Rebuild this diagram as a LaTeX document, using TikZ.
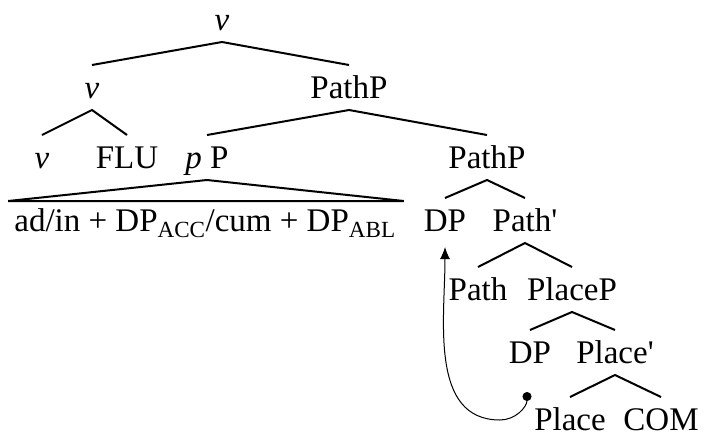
\documentclass[tikz,border=0pt]{standalone}
\usepackage{fontspec}
\setmainfont{Liberation Serif}
\usetikzlibrary{arrows.meta}
\tikzstyle{tree_style}=[
	x=1pt,y=1pt,
	cat/.style={anchor=base,inner sep=0pt,outer ysep=12pt,text height=21pt,text depth=0pt,font=\fontsize{33}{38}\selectfont},
	branch/.style={line width=2pt},
	move_edge/.style={line width=1pt,{Circle[length=9pt]}-{Latex[length=12pt,width=10pt]}}
]

\begin{document}
\begin{tikzpicture}[tree_style]
			\useasboundingbox (0,0) rectangle (704,-442);
			
			%root
			\node[cat] (vtop) at (222,-30) {\textit{v}};
			
			%second row
			\node[cat] (v1) at (92,-98) {\textit{v}};
			\node[cat] (pathp1) at (349,-98) {PathP};
			
			%third row
			\node[cat] (v0) at (42,-168) {\textit{v}};
			\node[cat] (flu) at (127,-168) {FLU};
			\node[cat] (pp) at (207,-168) {\textit{p} P};
			\node[cat] (pathp2) at (487,-168) {PathP};
			
			%fourth row
			\node[cat] (adin) at (205,-231) {ad/in + DP\textsubscript{ACC}/cum + DP\textsubscript{ABL}};
			\node[cat] (dp1) at (445,-231) {DP};
			\node[cat] (pathbar) at (525,-231) {Path\textquotesingle};
			
			%lower rows
			\node[cat] (path) at (478,-300) {Path};
			\node[cat] (placep) at (572,-300) {PlaceP};
			
			\node[cat] (dp2) at (530,-363) {DP};
			\node[cat] (placebar) at (615,-363) {Place\textquotesingle};
			
			\node[cat] (place) at (570,-430) {Place};
			\node[cat] (com) at (661,-430) {COM};
			
			\coordinate (low) at (500,-420);
			
			\draw[branch] (v1.north) -- (vtop.south) -- (pathp1.north);
			\draw[branch] (v0.north) -- (v1.south) -- (flu.north);
			\draw[branch] (pp.north) -- (pathp1.south) -- (pathp2.north);
			\draw[branch] (pp.south) -- ([xshift=-6pt,yshift=-3pt]adin.north west) -- ([xshift=8pt,yshift=-3pt]adin.north east) -- cycle;
			\draw[branch] (dp1.north) -- (pathp2.south) -- (pathbar.north);
			\draw[branch] (path.north) -- (pathbar.south) -- (placep.north);
			\draw[branch] (dp2.north) -- (placep.south) -- (placebar.north);
			\draw[branch] (place.north) -- (placebar.south) -- (com.north);
			
			%movement
			\draw[move_edge] ([shift={(-3,-17)}]dp2.south) to[out=-90,in=0] (low) to[out=180,in=-90] ([yshift=-4pt]dp1.south);
			
\end{tikzpicture}
\end{document}
